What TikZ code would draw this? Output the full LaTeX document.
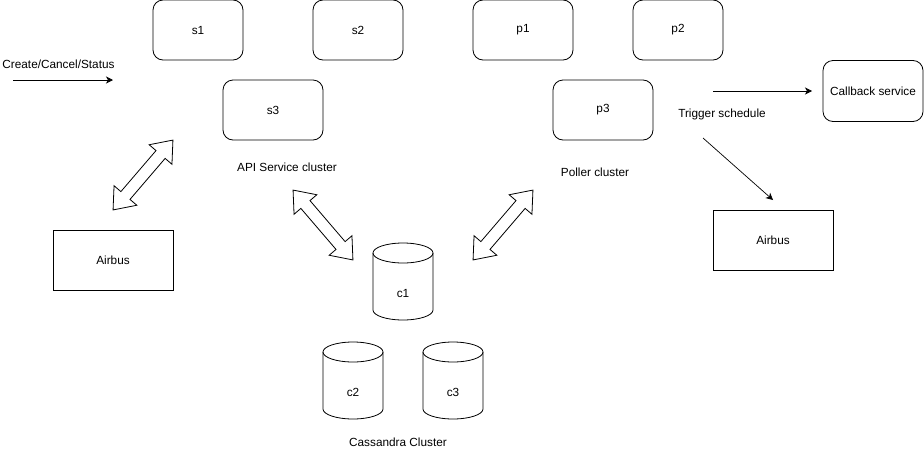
\documentclass[tikz,border=0pt]{standalone}
\usepackage{fontspec}
\setmainfont{Liberation Sans}
\usetikzlibrary{arrows.meta}

\begin{document}
\begin{tikzpicture}[x=1pt, y=-1pt, line width=.8pt,
        font=\fontsize{11.8}{14}\selectfont,
        svc/.style={draw, rounded corners=10pt, minimum width=90pt, minimum height=60pt, inner sep=0pt},
        wide/.style={svc, minimum width=100pt},
        bus/.style={draw, minimum width=120pt, minimum height=60pt, inner sep=0pt},
        lbl/.style={inner sep=0pt},
        flow/.style={-{Stealth[length=7pt, width=7pt, inset=2pt]}, line width=.7pt}]
    \useasboundingbox (0, 0) rectangle (924, 453);
    % top rows
    \node[svc](s1) at (198, 30){s1};
    \node[svc](s2) at (358, 30){s2};
    \node[wide](p1) at (523, 30){p1};
    \node[svc](p2) at (678, 30){p2};
    \node[wide](s3) at (273, 110){s3};
    \node[wide](p3) at (603, 110){p3};
    \node[lbl](apicl) at (287, 167){API Service cluster};
    \node[lbl](pollcl) at (595, 172){Poller cluster};
    % requests in
    \node[lbl, anchor=west](req) at (2, 64){Create/Cancel/Status};
    \coordinate (reqa) at (13, 80);
    \coordinate (reqb) at (113, 80);
    \draw[flow](reqa)--(reqb);
    % airbus boxes and callback
    \node[bus](bus1) at (113, 260){Airbus};
    \node[bus](bus2) at (773, 240){Airbus};
    \node[svc, minimum width=100pt, minimum height=61pt](cb) at (873, 91){Callback service};
    \node[lbl](trig) at (722, 114){Trigger schedule};
    \coordinate (cba) at (713, 91);
    \coordinate (cbb) at (812, 91);
    \coordinate (trga) at (703, 138);
    \coordinate (trgb) at (773, 200);
    \draw[flow](cba)--(cbb);
    \draw[flow](trga)--(trgb);
    % hollow two-way arrows
    \foreach \cx/\cy/\ang in {143/175/49.4, 323/225/-49.4, 503/225/49.4}
        \draw[shift={(\cx, \cy)}, rotate=\ang](46, 0)--(27, 15)--(27, 6)--(-27, 6)--(-27, 15)--(-46, 0)
            --(-27, -15)--(-27, -6)--(27, -6)--(27, -15)--cycle;
    % cassandra
    \foreach \n/\cx/\cy in {c1/403/253, c2/353/352, c3/453/352}{
        \draw(\cx-30, \cy)--(\cx-30, \cy+57)arc[start angle=180, end angle=360, x radius=30pt, y radius=10pt]--(\cx+30, \cy);
        \draw(\cx, \cy)ellipse[x radius=30pt, y radius=10pt];
        \node[lbl](\n) at (\cx, \cy+40){\n};
    }
    \node[lbl](cass) at (398, 442){Cassandra Cluster};
\end{tikzpicture}
\end{document}
